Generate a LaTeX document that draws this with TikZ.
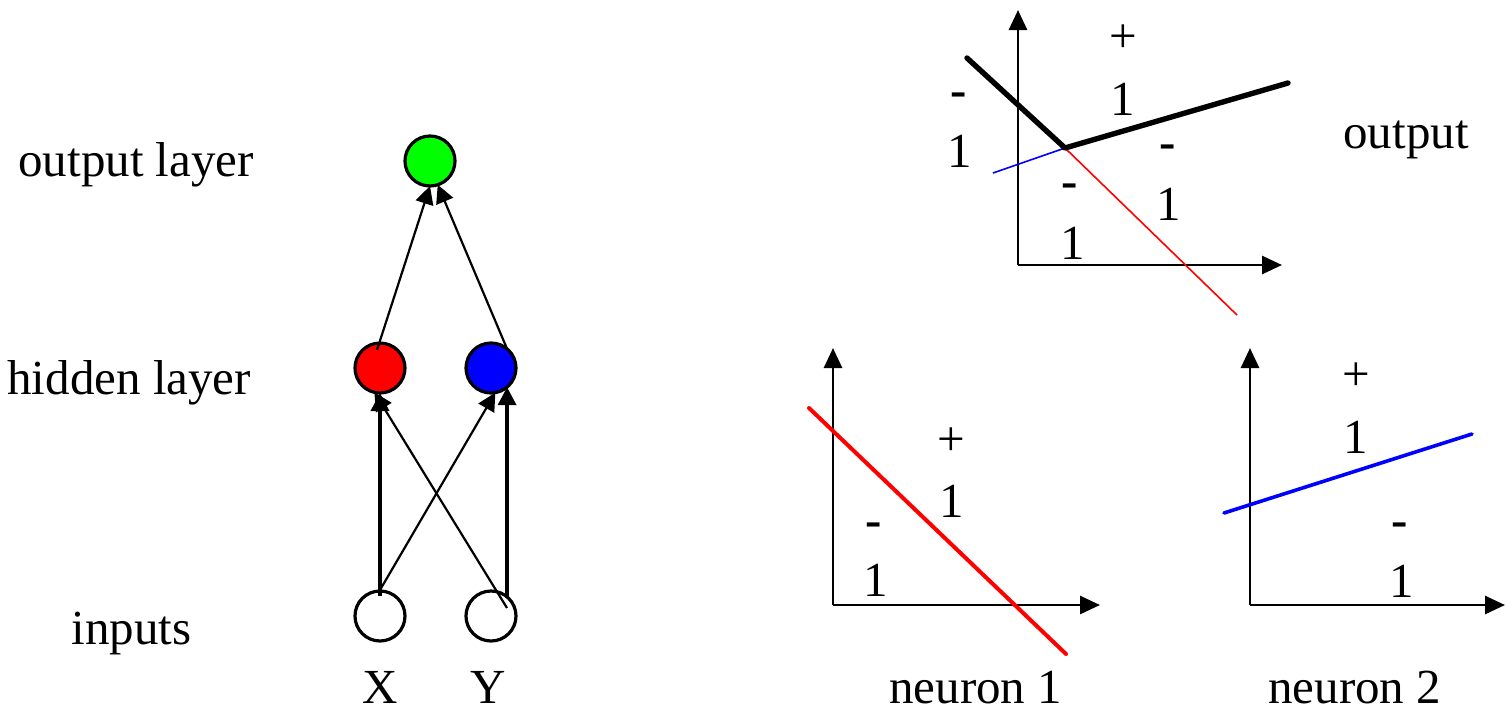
\documentclass[tikz,border=0pt]{standalone}
\usepackage{fontspec}
\setmainfont{Liberation Serif}
\usetikzlibrary{arrows.meta,calc}
\begin{document}
\begin{tikzpicture}[x=0.5pt,y=-0.5pt,
  txt/.style={inner sep=0pt, font=\fontsize{24.5}{30}\selectfont},
  sgn/.style={txt, anchor=base},
  neuron/.style={circle, draw, line width=1.6pt, minimum size=25pt, inner sep=0pt, outer sep=0pt},
  vlink/.style={line width=1.8pt, -{Triangle[length=9pt,width=9pt]}},
  dlink/.style={line width=1.1pt, -{Triangle[length=9pt,width=9pt]}},
  axis/.style={line width=1.4pt, -{Triangle[length=10pt,width=9pt]}},
]
\useasboundingbox (0,0) rectangle (1506,713);

% ---------- network ----------
\node[txt, anchor=base west] (lout) at (18,176) {output layer};
\node[txt, anchor=base west] (lhid) at (7,394) {hidden layer};
\node[txt, anchor=base west] (linp) at (71,644) {inputs};

\node[neuron, fill={rgb,255:red,0;green,255;blue,0}] (out) at (430,161) {};
\node[neuron, fill=red] (h1) at (380,368) {};
\node[neuron, fill=blue] (h2) at (491,368) {};
\node[neuron, fill=white] (X) at (380,616) {};
\node[neuron, fill=white] (Y) at (491,616) {};

\node[sgn] (lx) at (380,703) {X};
\node[sgn] (ly) at (488,703) {Y};

\draw[vlink] ([shift={(0,-20)}]X.center) -- (h1.south);
\draw[dlink] ([shift={(0,-26)}]X.center) -- (h2.-80);
\draw[dlink] ([shift={(16,-8)}]Y.center) -- (h1.-103);
\draw[vlink] (Y.50) -- (h2.-50);
\draw[dlink] ([shift={(-3,-18)}]h1.center) -- (out.south);
\draw[dlink] (h2.50) -- (out.-72);

% ---------- output plot ----------
\coordinate (o1) at (1018,265);
\draw[axis] (o1) -- (1018,10);
\draw[axis] (o1) -- (1282,265);
\coordinate (k) at (1065,148);
\draw[blue, line width=0.8pt] (993,173) -- (k);
\draw[red, line width=0.8pt] (k) -- (1237,315);
\draw[line width=2.7pt, line cap=round, line join=round] (967,58) -- (k) -- (1288,83);
\node[sgn] (p1a) at (1123,52) {+};
\node[sgn] (p1b) at (1123,115) {1};
\node[sgn] (m1a) at (959,106) {\textbf{-}};
\node[sgn] (m1b) at (960,167) {1};
\node[sgn] (m2a) at (1168,158) {\textbf{-}};
\node[sgn] (m2b) at (1169,220) {1};
\node[sgn] (m3a) at (1070,197) {\textbf{-}};
\node[sgn] (m3b) at (1073,259) {1};
\node[txt, anchor=base west] (lo) at (1343,148) {output};

% ---------- neuron 1 plot ----------
\coordinate (o2) at (833,605);
\draw[axis] (o2) -- (833,348);
\draw[axis] (o2) -- (1100,605);
\draw[red, line width=2pt, line cap=round] (809,408) -- (1066,654);
\node[sgn] (n1pa) at (951,455) {+};
\node[sgn] (n1pb) at (952,517) {1};
\node[sgn] (n1ma) at (874,536) {\textbf{-}};
\node[sgn] (n1mb) at (876,596) {1};
\node[txt, anchor=base west] (ln1) at (889,703) {neuron 1};

% ---------- neuron 2 plot ----------
\coordinate (o3) at (1250,605);
\draw[axis] (o3) -- (1250,348);
\draw[axis] (o3) -- (1505,605);
\draw[blue, line width=1.8pt, line cap=round] (1224,513) -- (1472,434);
\node[sgn] (n2pa) at (1356,390) {+};
\node[sgn] (n2pb) at (1356,453) {1};
\node[sgn] (n2ma) at (1400,536) {\textbf{-}};
\node[sgn] (n2mb) at (1402,597) {1};
\node[txt, anchor=base west] (ln2) at (1268,703) {neuron 2};
\end{tikzpicture}
\end{document}
